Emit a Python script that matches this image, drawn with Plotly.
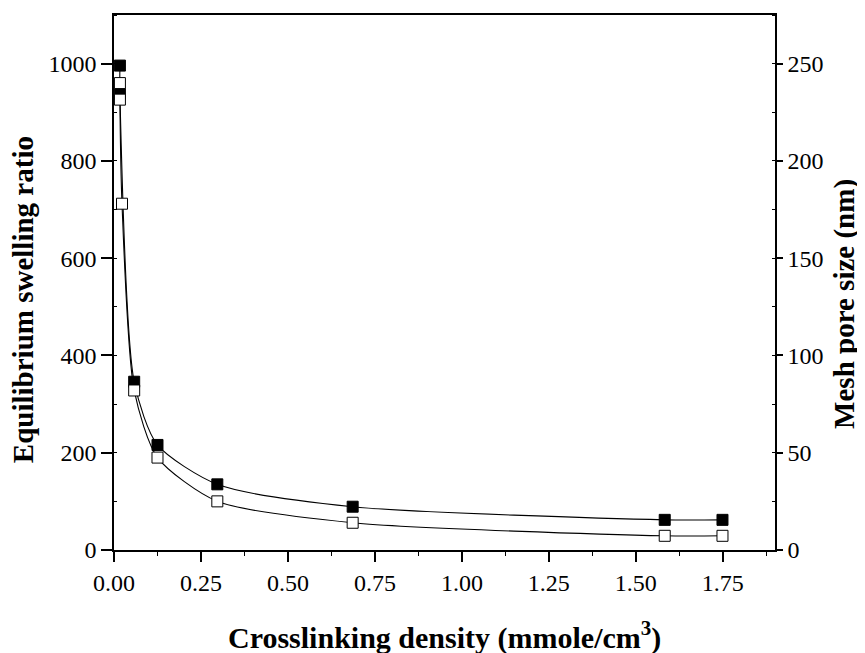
import plotly.graph_objects as go

# Crosslinking density (mmole/cm^3)
x_swell = [0.017, 0.017, 0.058, 0.125, 0.297, 0.686, 1.583, 1.749]
swelling_ratio = [996, 938, 346, 216, 135, 89, 62, 62]

x_pore = [0.017, 0.017, 0.023, 0.058, 0.125, 0.297, 0.686, 1.583, 1.749]
pore_size_nm = [240, 231.5, 178, 82, 47.5, 25, 14, 7.3, 7.3]

x_ticks = [0.0, 0.25, 0.5, 0.75, 1.0, 1.25, 1.5, 1.75]
x_tick_labels = ["0.00", "0.25", "0.50", "0.75", "1.00", "1.25", "1.50", "1.75"]

x_title = "<b>Crosslinking density (mmole/cm<sup>3</sup>)</b>"
y_title = "<b>Equilibrium swelling ratio</b>"
y2_title = "<b>Mesh pore size (nm)</b>"

font_family = "Liberation Serif"
tick_font = dict(family=font_family, size=24, color="black")
title_font = dict(family=font_family, size=29, color="black")
x_title_font = dict(family=font_family, size=30, color="black")

fig = go.Figure()
fig.add_trace(go.Scatter(
    x=x_swell, y=swelling_ratio, mode="lines+markers",
    line=dict(color="black", width=1.1, shape="spline", smoothing=0.7),
    marker=dict(symbol="square", size=11, color="black", line=dict(color="black", width=1)),
    yaxis="y", showlegend=False,
))
fig.add_trace(go.Scatter(
    x=x_pore, y=pore_size_nm, mode="lines+markers",
    line=dict(color="black", width=1.1, shape="spline", smoothing=0.7),
    marker=dict(symbol="square", size=11, color="white", line=dict(color="black", width=1)),
    yaxis="y2", showlegend=False,
))

axis_common = dict(
    showgrid=False, zeroline=False, showline=True, linecolor="black", linewidth=1.5,
    ticks="outside", tickwidth=1.5, tickcolor="black", tickfont=tick_font,
)

fig.update_layout(
    width=857, height=645,
    margin=dict(l=106, r=90, t=7, b=103, autoexpand=False),
    paper_bgcolor="white", plot_bgcolor="white",
    xaxis=dict(
        range=[0, 1.9], tickvals=x_ticks, ticktext=x_tick_labels, mirror=True, ticklen=10,
        minor=dict(ticks="outside", ticklen=4, tickwidth=1, tickcolor="black", dtick=0.125, tick0=0),
        **axis_common,
    ),
    yaxis=dict(
        range=[0, 1100], dtick=200, tick0=0, ticklen=11,
        minor=dict(ticks="inside", ticklen=3, tickwidth=1, tickcolor="black", dtick=100, tick0=0),
        **axis_common,
    ),
    yaxis2=dict(
        range=[0, 275], dtick=50, tick0=0, overlaying="y", side="right", ticklen=6,
        minor=dict(ticks="inside", ticklen=3, tickwidth=1, tickcolor="black", dtick=25, tick0=0),
        **axis_common,
    ),
    annotations=[
        dict(text=x_title, xref="paper", yref="paper", x=0.5, y=0, yshift=-85,
             xanchor="center", yanchor="middle", showarrow=False, font=x_title_font),
        dict(text=y_title, xref="paper", yref="paper", x=0, y=0.467, xshift=-91,
             xanchor="center", yanchor="middle", textangle=-90, showarrow=False, font=title_font),
        dict(text=y2_title, xref="paper", yref="paper", x=1, y=0.46, xshift=70,
             xanchor="center", yanchor="middle", textangle=-90, showarrow=False, font=title_font),
    ],
)

fig.write_html("out.html")
